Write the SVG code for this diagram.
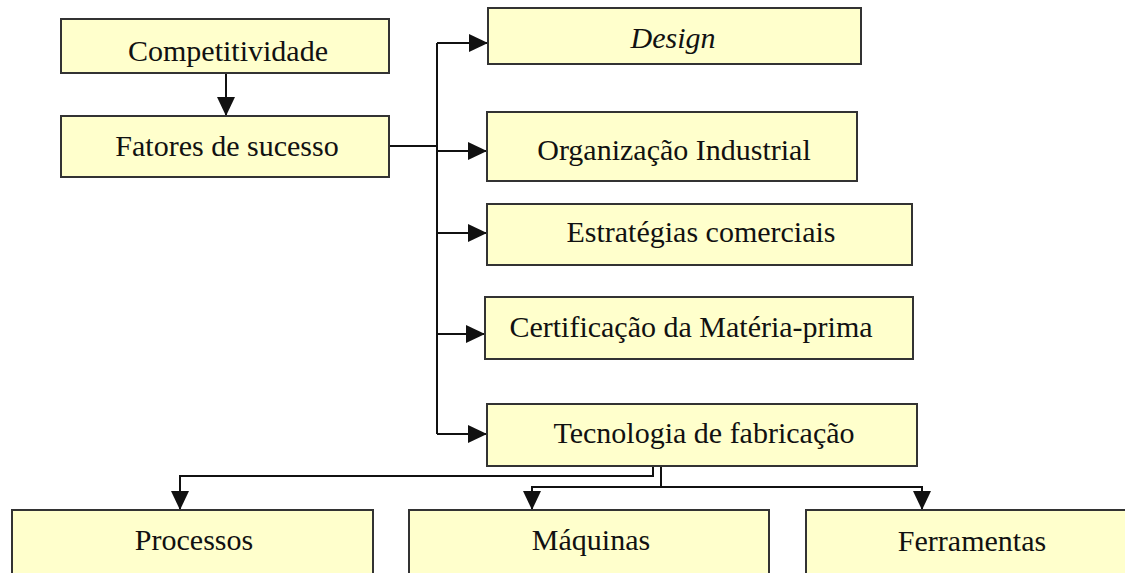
<svg xmlns="http://www.w3.org/2000/svg" width="1125" height="573" viewBox="0 0 1125 573">
<style>
.box{fill:#FFFFCC;stroke:#333;stroke-width:2}
.t{font-family:"Liberation Serif","Times New Roman",serif;font-size:30px;fill:#111;text-anchor:middle}
.c{fill:none;stroke:#111;stroke-width:2}
</style>
<defs>
<marker id="ah" markerUnits="userSpaceOnUse" markerWidth="20" markerHeight="20" refX="19" refY="9" orient="auto">
<path d="M0,0 L19,9 L0,18 z" fill="#111"/>
</marker>
</defs>
<rect width="1125" height="573" fill="#fff"/>
<g id="connectors">
<path class="c" d="M226,73 V116" marker-end="url(#ah)"/>
<path class="c" d="M389,146 H437" stroke-width="3"/>
<path class="c" d="M437,43 V434"/>
<path class="c" d="M437,43 H488" marker-end="url(#ah)"/>
<path class="c" d="M437,151 H487" marker-end="url(#ah)"/>
<path class="c" d="M437,233 H487" marker-end="url(#ah)"/>
<path class="c" d="M437,334 H485" marker-end="url(#ah)"/>
<path class="c" d="M437,434 H487" marker-end="url(#ah)"/>
<path class="c" d="M653,466 V476 H180 V510" marker-end="url(#ah)"/>
<path class="c" d="M661,466 V487 H532 V510" marker-end="url(#ah)"/>
<path class="c" d="M661,487 H922 V510" marker-end="url(#ah)"/>
</g>
<g id="competitividade"><rect class="box" x="61" y="19" width="328" height="54"/><text class="t" x="228" y="61">Competitividade</text></g>
<g id="fatores"><rect class="box" x="61" y="116" width="328" height="61"/><text class="t" x="227" y="156">Fatores de sucesso</text></g>
<g id="design"><rect class="box" x="488" y="8" width="373" height="56"/><text class="t" x="673" y="48" font-style="italic">Design</text></g>
<g id="organizacao"><rect class="box" x="487" y="112" width="370" height="69"/><text class="t" x="674" y="160">Organização Industrial</text></g>
<g id="estrategias"><rect class="box" x="487" y="204" width="425" height="61"/><text class="t" x="701" y="242">Estratégias comerciais</text></g>
<g id="certificacao"><rect class="box" x="485" y="297" width="428" height="62"/><text class="t" x="691" y="337">Certificação da Matéria-prima</text></g>
<g id="tecnologia"><rect class="box" x="487" y="404" width="430" height="62"/><text class="t" x="704" y="443">Tecnologia de fabricação</text></g>
<g id="processos"><rect class="box" x="12" y="510" width="361" height="80"/><text class="t" x="194" y="550">Processos</text></g>
<g id="maquinas"><rect class="box" x="409" y="510" width="360" height="80"/><text class="t" x="591" y="550">Máquinas</text></g>
<g id="ferramentas"><rect class="box" x="806" y="510" width="340" height="80"/><text class="t" x="972" y="551">Ferramentas</text></g>
</svg>
